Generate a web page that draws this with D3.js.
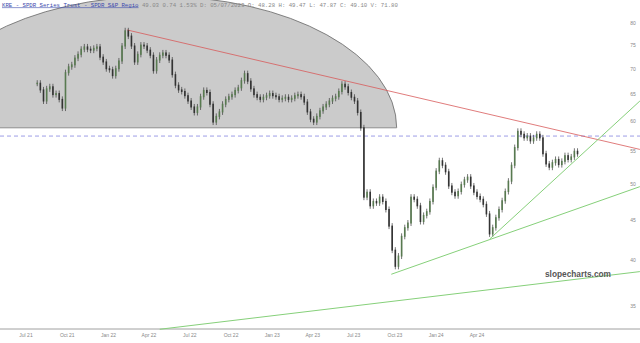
<!DOCTYPE html>
<html>
<head>
<meta charset="utf-8">
<script src="https://cdn.jsdelivr.net/npm/d3@7"></script>
<style>
  body { margin: 0; background: #fff; }
  svg { display: block; }
</style>
</head>
<body>
<div id="graphics"></div>
<script>
// weekly closes (first bar = week of Jul 26 2021)
const closes = [
  67.1, 65.8, 63.7, 66.0, 66.4, 64.9, 65.1, 64.0, 62.4, 69.2,
  70.4, 70.8, 72.2, 73.0, 74.1, 74.6, 74.1, 73.9, 74.3, 74.6,
  72.4, 71.4, 70.0, 69.8, 68.6, 70.0, 71.6, 74.8, 78.2, 77.0,
  74.8, 71.4, 73.0, 75.0, 74.8, 73.9, 72.8, 69.6, 71.8, 72.8,
  73.3, 72.8, 71.8, 68.8, 66.7, 65.8, 65.5, 64.7, 63.7, 62.6,
  61.6, 62.6, 64.5, 65.7, 65.3, 63.1, 59.9, 60.9, 61.7, 63.1,
  64.0, 64.5, 64.9, 65.7, 66.2, 67.6, 69.0, 67.5, 66.0, 64.9,
  64.4, 64.0, 64.4, 64.7, 65.1, 64.7, 64.5, 64.0, 64.2, 64.4,
  64.0, 64.2, 64.7, 64.9, 64.5, 63.5, 61.7, 60.4, 59.9, 60.9,
  61.9, 62.6, 63.1, 63.7, 64.2, 64.5, 65.5, 66.9, 66.4, 65.3,
  64.4, 63.7, 61.6, 58.9, 48.1, 48.8, 46.9, 47.5, 47.3, 48.1,
  47.5, 46.4, 44.2, 41.2, 39.3, 40.5, 42.9, 44.0, 44.6, 48.1,
  47.8, 46.9, 44.8, 45.6, 46.1, 47.5, 49.5, 51.9, 53.5, 52.8,
  51.8, 49.7, 48.8, 48.3, 48.9, 49.9, 50.6, 51.0, 49.7, 48.8,
  48.2, 47.8, 47.1, 45.8, 43.2, 44.0, 45.3, 46.4, 47.6, 48.9,
  50.4, 52.8, 55.6, 58.3, 57.8, 57.2, 57.5, 56.7, 57.2, 57.8,
  57.2, 54.6, 53.0, 52.5, 53.2, 53.7, 52.9, 53.4, 54.3, 53.7,
  54.1, 55.0, 54.6
];
const firstWeek = new Date(2021, 6, 26);
const dates = closes.map((c, i) => d3.timeWeek.offset(firstWeek, i));

const yTicks = [80, 75, 70, 65, 60, 55, 50, 45, 40, 35];
const xTickDates = [
  new Date(2021, 6, 1), new Date(2021, 9, 1), new Date(2022, 0, 1), new Date(2022, 3, 1),
  new Date(2022, 6, 1), new Date(2022, 9, 1), new Date(2023, 0, 1), new Date(2023, 3, 1),
  new Date(2023, 6, 1), new Date(2023, 9, 1), new Date(2024, 0, 1), new Date(2024, 3, 1)
];

// drawn annotations: [date, price] pairs
const redLine = [[new Date(2022, 1, 11), 78.4], [new Date(2025, 2, 30), 55.3]];
const greenLines = [
  [[new Date(2023, 8, 23), 38.4], [new Date(2025, 2, 30), 49.6]],
  [[new Date(2024, 3, 30), 42.6], [new Date(2025, 2, 30), 63.7]],
  [[new Date(2022, 3, 25), 32.7], [new Date(2025, 2, 30), 38.7]]
];
const dashedLevel = 57.5;
const zoneBottom = 58.9;
const zoneTop = 86.5;
const zoneDates = [new Date(2022, 3, 21), new Date(2023, 9, 5)]; // centre, right edge

const header = "KRE - SPDR Series Trust - SPDR S&P Regio";
const quote = "49.03 0.74 1.53% D: 05/07/2023 O: 48.28 H: 49.47 L: 47.87 C: 49.10 V: 71.80";

const width = 640, height = 343;

const x = d3.scaleTime()
  .domain([new Date(2021, 6, 1), new Date(2024, 3, 1)])
  .range([26, 477]);
const y = d3.scaleLog()
  .domain([80, 35])
  .range([23, 306]);

let svg = d3.select("#graphics")
  .append("svg")
  .attr("width", width)
  .attr("height", height)
  .style("font-family", "'Liberation Sans', Arial, sans-serif");

// grey zone (half ellipse)
svg.append("clipPath").attr("id", "zoneClip")
  .append("rect").attr("x", 0).attr("y", -50).attr("width", width).attr("height", y(zoneBottom) + 50);

let zcx = x(zoneDates[0]), zrx = x(zoneDates[1]) - zcx;
let zcy = y(zoneBottom), zry = zcy - y(zoneTop);
svg.append("ellipse")
  .attr("clip-path", "url(#zoneClip)")
  .attr("cx", zcx).attr("cy", zcy).attr("rx", zrx).attr("ry", zry)
  .attr("fill", "#cbcbcb")
  .attr("stroke", "#666")
  .attr("stroke-width", 0.8);
svg.append("line")
  .attr("x1", 0).attr("x2", zcx + zrx)
  .attr("y1", zcy).attr("y2", zcy)
  .attr("stroke", "#777").attr("stroke-width", 0.8);

// dashed level
svg.append("line")
  .attr("x1", 0).attr("x2", width)
  .attr("y1", y(dashedLevel)).attr("y2", y(dashedLevel))
  .attr("stroke", "#9d9de6").attr("stroke-width", 1)
  .attr("stroke-dasharray", "4,3");

// red trendline
svg.append("line")
  .attr("x1", x(redLine[0][0])).attr("y1", y(redLine[0][1]))
  .attr("x2", x(redLine[1][0])).attr("y2", y(redLine[1][1]))
  .attr("stroke", "#d85a5a").attr("stroke-width", 0.8);

// x axis line
svg.append("line")
  .attr("x1", 0).attr("x2", width)
  .attr("y1", 329).attr("y2", 329)
  .attr("stroke", "#a0a0a0").attr("stroke-width", 1);

// candles (open = previous close)
let candles = svg.append("g");
closes.forEach((c, i) => {
  let o = i > 0 ? closes[i - 1] : c;
  let cx = x(dates[i]);
  let y1 = y(Math.max(o, c)), y2 = y(Math.min(o, c));
  let up = c >= o;
  candles.append("line")
    .attr("x1", cx).attr("x2", cx)
    .attr("y1", y1 - 3).attr("y2", y2 + 3)
    .attr("stroke", "#3a3a3a").attr("stroke-width", 0.7);
  candles.append("rect")
    .attr("x", cx - 0.8).attr("width", 1.6)
    .attr("y", y1 - 0.5).attr("height", Math.max(1.5, y2 - y1 + 1))
    .attr("fill", up ? "#587a50" : "#333")
    .attr("stroke", "none");
});

// green trendlines
greenLines.forEach(l => {
  svg.append("line")
    .attr("x1", x(l[0][0])).attr("y1", y(l[0][1]))
    .attr("x2", x(l[1][0])).attr("y2", y(l[1][1]))
    .attr("stroke", "#86d07a").attr("stroke-width", 1);
});

// y labels
svg.selectAll(".ylab")
  .data(yTicks)
  .enter()
  .append("text")
  .attr("x", 633)
  .attr("y", d => y(d) + 2)
  .attr("text-anchor", "middle")
  .attr("font-size", 5)
  .attr("fill", "#888")
  .text(d => d);

// x labels
svg.selectAll(".xlab")
  .data(xTickDates)
  .enter()
  .append("text")
  .attr("x", d => x(d))
  .attr("y", 337)
  .attr("text-anchor", "middle")
  .attr("font-size", 5)
  .attr("fill", "#888")
  .text(d => d3.timeFormat("%b %y")(d));

// watermark
svg.append("text")
  .attr("x", 545).attr("y", 277)
  .attr("font-size", 8.3)
  .attr("font-weight", "bold")
  .attr("fill", "#555")
  .text("slopecharts.com");

// header
let h = svg.append("text")
  .attr("x", 2).attr("y", 6.5)
  .attr("font-family", "'Liberation Mono', 'DejaVu Sans Mono', monospace")
  .attr("font-size", 5.7);
h.append("tspan")
  .attr("fill", "#3949ab")
  .attr("text-decoration", "underline")
  .text(header);
h.append("tspan")
  .attr("fill", "#888")
  .text(" " + quote);
</script>
</body>
</html>
